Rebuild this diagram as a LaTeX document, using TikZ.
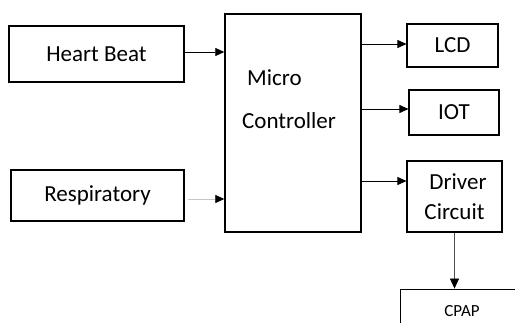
\documentclass[tikz,border=0pt]{standalone}
\usepackage{fontspec}
\setmainfont{Carlito}
\usetikzlibrary{positioning, arrows.meta}
\tikzset{
    x=1pt, y=1pt, % one unit is one point, as in the picture
    block/.style={draw, line width=1.1pt, rectangle, inner sep=0pt, font=\fontsize{23}{27}\selectfont}, % every box
    link/.style={line width=0.7pt, -{Triangle[length=9pt, width=8pt]}}, % the arrows between boxes
}

\begin{document}
\begin{tikzpicture}
    \useasboundingbox (0,0) rectangle (515,322);
    % inputs
    \node[block, minimum width=175, minimum height=56] (hb) at (96.5,268) {Heart Beat};
    \node[block, minimum width=173, minimum height=51] (rs) at (97.5,126.5) {Respiratory};
    % controller
    \node[block, line width=1.4pt, minimum width=136, minimum height=218] (mc) at (293,199) {};
    \node[font=\fontsize{23}{27}\selectfont, align=left, anchor=west, inner sep=0pt] (mctext) at (242,222.5) {\hspace{5pt}Micro\\[16pt]Controller};
    % outputs
    \node[block, minimum width=91, minimum height=43] (lcd) at (452.5,276.5) {LCD};
    \node[block, minimum width=90, minimum height=45] (iot) at (454,209.5) {IOT};
    \node[block, align=center, minimum width=95, minimum height=71] (drv) at (454.5,125.5) {\hspace{7pt}Driver\\[3pt]Circuit};
    \node[block, line width=0.8pt, font=\fontsize{17}{20}\selectfont, minimum width=124, minimum height=44] (cpap) at (462,11) {CPAP};
    % arrows
    \draw[link] ([yshift=2pt]hb.east) -- ([yshift=2pt]hb.east -| mc.west);
    \draw[link, draw=gray!45, -{Triangle[length=9pt, width=8pt, color=black]}] ([xshift=3pt, yshift=-3.5pt]rs.east) -- ([yshift=-3.5pt]rs.east -| mc.west);
    \draw[link] ([yshift=1.5pt]mc.east |- lcd) -- ([yshift=1.5pt]lcd.west);
    \draw[link] ([yshift=3.5pt]mc.east |- iot) -- ([yshift=3.5pt]iot.west);
    \draw[link] ([yshift=15.5pt]mc.east |- drv) -- ([yshift=15.5pt]drv.west);
    \draw[link, draw=black!70, -{Triangle[length=10pt, width=9pt, color=black]}] (drv.south) -- (drv.south |- cpap.north);
\end{tikzpicture}
\end{document}
